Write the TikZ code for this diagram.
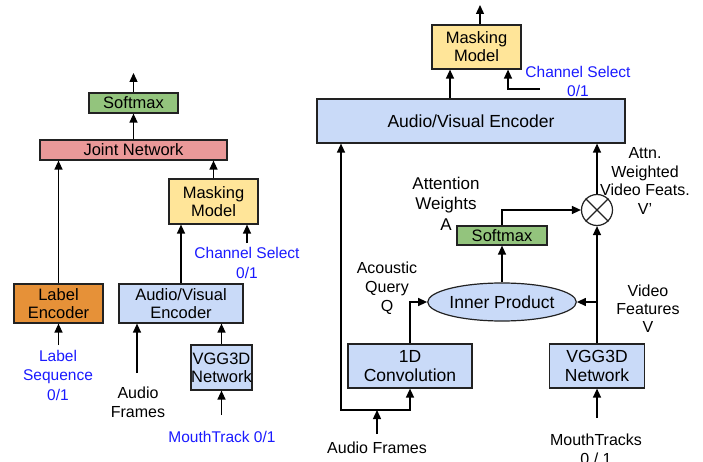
\documentclass[tikz,border=0pt]{standalone}
\usepackage{fontspec}
\setmainfont{Liberation Sans}
\usetikzlibrary{arrows.meta,shapes.geometric,calc}
\definecolor{cgreen}{HTML}{93C47D}
\definecolor{cred}{HTML}{EA9999}
\definecolor{cyellow}{HTML}{FFE599}
\definecolor{corange}{HTML}{E69138}
\definecolor{cblue}{HTML}{C9DAF8}
\definecolor{cbluetext}{HTML}{1A1AFF}
\definecolor{cline}{HTML}{222222}
\newcommand\boxfont{\fontsize{16.5}{18}\selectfont}
\newcommand\bigboxfont{\fontsize{17.5}{19}\selectfont}
\newcommand\notefont{\fontsize{16}{19}\selectfont}
\newcommand\bluefont{\fontsize{15.5}{19.5}\selectfont}
\begin{document}
\begin{tikzpicture}[x=1pt,y=-1pt,
  box/.style={draw=cline, line width=1.2pt, inner sep=0pt, align=center, font=\boxfont, text=black},
  note/.style={inner sep=0pt, align=center, font=\notefont, text=black},
  bluet/.style={inner sep=0pt, align=center, font=\bluefont, text=cbluetext},
  arr/.style={-{Triangle[length=9pt,width=8pt]}, line width=1.3pt, draw=black},
  arrtwo/.style={{Triangle[length=9pt,width=8pt]}-{Triangle[length=9pt,width=8pt]}, line width=1.3pt, draw=black}]
\useasboundingbox (0,0) rectangle (703,462);
\fill[white] (0,0) rectangle (703,462);
% ---------- left diagram ----------
\node[box,fill=cgreen,minimum width=89pt,minimum height=20pt] (lsoft) at (133.5,103) {Softmax};
\node[box,fill=cred,minimum width=187pt,minimum height=20pt] (joint) at (133.5,150) {Joint Network};
\node[box,fill=cyellow,minimum width=89pt,minimum height=45pt] (lmask) at (213.5,201.5) {Masking\\Model};
\node[box,fill=corange,minimum width=89pt,minimum height=39pt] (lenc) at (58.5,303.5) {Label\\Encoder};
\node[box,fill=cblue,minimum width=124pt,minimum height=39pt] (lav) at (181,303.5) {Audio/Visual\\Encoder};
\node[box,fill=cblue,minimum width=61pt,minimum height=45pt] (lvgg) at (221.5,367.5) {VGG3D\\Network};
\coordinate (lout) at (133.5,73);
\draw[arr] (lsoft.north) -- (lout);
\draw[arr] (joint.north) -- (lsoft.south);
\draw[arr] (lenc.north) -- (lenc.north |- joint.south);
\draw[arr] (lmask.north) -- (lmask.north |- joint.south);
\draw[arr] (lav.north) -- (lav.north |- lmask.south);
\coordinate (lcs) at (247,243);
\draw[arr] (lcs) -- (lcs |- lmask.south);
\node[bluet] (lcst) at (247,263) {Channel Select\\0/1};
\coordinate (lseq) at (58.5,345);
\draw[arr] (lseq) -- (lenc.south);
\node[bluet] (lseqt) at (58,375) {Label\\Sequence\\0/1};
\coordinate (laf) at (137,373);
\draw[arr] (laf) -- (laf |- lav.south);
\node[note] (laft) at (138,402.5) {Audio\\Frames};
\draw[arr] (lvgg.north) -- (lvgg.north |- lav.south);
\coordinate (lmt) at (221.5,415);
\draw[arr] (lmt) -- (lvgg.south);
\node[bluet] (lmtt) at (222,437) {MouthTrack 0/1};
% ---------- right diagram ----------
\node[box,fill=cyellow,minimum width=89pt,minimum height=44pt] (rmask) at (476.5,47) {Masking\\Model};
\node[box,fill=cblue,minimum width=308pt,minimum height=44pt,font=\bigboxfont] (rav) at (471,121) {Audio/Visual Encoder};
\coordinate (rout) at (480,5);
\draw[arr] (rout |- rmask.north) -- (rout);
\coordinate (rxa) at (450,0);
\draw[arr] (rxa |- rav.north) -- (rxa |- rmask.south);
\coordinate (rcs) at (540,89);
\coordinate (rxb) at (508,0);
\draw[arr] (rcs) -| (rxb |- rmask.south);
\node[bluet] (rcst) at (578,81.5) {Channel Select\\0/1};
\node[box,fill=cgreen,minimum width=90pt,minimum height=19pt] (rsoft) at (502,235.5) {Softmax};
\node[box,ellipse,fill=cblue,minimum width=139pt,minimum height=38pt,font=\bigboxfont] (inner) at (502,302) {Inner Product};
\node[box,fill=cblue,minimum width=124pt,minimum height=44pt,font=\bigboxfont] (conv) at (410,366) {1D\\Convolution};
\node[box,fill=cblue,minimum width=95pt,minimum height=44pt,font=\bigboxfont] (rvgg) at (597,366) {VGG3D\\Network};
\node[draw=cline,line width=1.2pt,circle,minimum size=31pt,inner sep=0pt] (mult) at (597,210) {};
\draw[line width=1.2pt,cline] (mult.north west) -- (mult.south east) (mult.north east) -- (mult.south west);
\draw[arr] (inner.north) -- (rsoft.south);
\draw[arr] (rsoft.north) |- (mult.west);
\draw[arr] (mult.north) -- (mult.north |- rav.south);
\draw[arr] (rvgg.north) -- (mult.south);
\coordinate (vb) at (rvgg.north |- inner.east);
\draw[arr] (vb) -- (inner.east);
\draw[arr] (conv.north) |- (inner.west);
\coordinate (rxc) at (341,410);
\draw[arrtwo] (rxc |- rav.south) -- (rxc) -| (conv.south);
\coordinate (raf) at (377,434);
\draw[arr] (raf) -- (raf |- rxc);
\node[note] (raft) at (377,448) {Audio Frames};
\coordinate (rmt) at (597,418);
\draw[arr] (rmt) -- (rvgg.south);
\node[note] (rmtt) at (596,449.5) {MouthTracks\\0 / 1};
\node[note,font=\fontsize{16}{18.7}\selectfont] (attnt) at (645,181) {Attn.\\Weighted\\Video Feats.\\V'};
\node[note,font=\fontsize{17}{20.5}\selectfont] (awt) at (446,203.5) {Attention\\Weights\\A};
\node[note] (aqt) at (387,288) {Acoustic\\Query\\Q};
\node[note,font=\fontsize{16}{18}\selectfont] (vft) at (648,309) {Video\\Features\\V};
\end{tikzpicture}
\end{document}
